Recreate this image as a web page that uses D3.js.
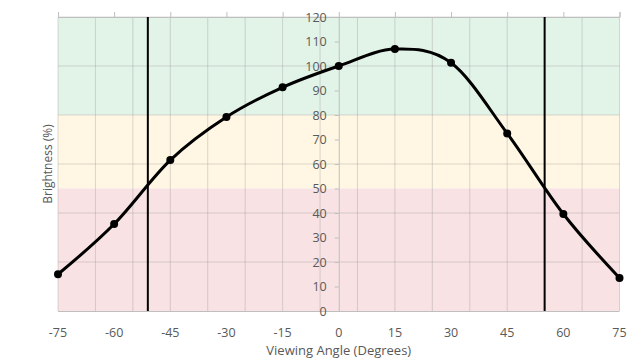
<!DOCTYPE html>
<html><head><meta charset="utf-8">
<script src="https://cdn.jsdelivr.net/npm/d3@7"></script>
<style>body{margin:0;background:#fff}svg{display:block}text{font-family:"Open Sans",Lato,sans-serif;fill:#595959}</style>
</head><body><svg id="c" width="644" height="360"></svg>
<script>
const angles = [-75,-60,-45,-30,-15,0,15,30,45,60,75];
const brightness = [15.0,35.5,61.6,79.2,91.3,100,106.9,101.3,72.5,39.6,13.5];
const xTicks = [-75,-60,-45,-30,-15,0,15,30,45,60,75];
const yTicks = [0,10,20,30,40,50,60,70,80,90,100,110,120];
const xGrid = [-75,-65,-55,-45,-35,-25,-15,-5,5,15,25,35,45,55,65,75];
const yGrid = [20,40,60,80,100,120];
const bands = [{from:80,to:120,color:"#e2f3e8"},{from:50,to:80,color:"#fff7e3"},{from:0,to:50,color:"#f8e2e3"}];
const markers = [-51,55];

const svg = d3.select("#c");
const x = d3.scaleLinear().domain([-75,75]).range([58,619.5]);
const y = d3.scaleLinear().domain([0,120]).range([311,17]);

svg.selectAll("rect.band").data(bands).join("rect")
  .attr("x",x(-75)).attr("width",x(75)-x(-75))
  .attr("y",d=>y(d.to)).attr("height",d=>y(d.from)-y(d.to)).attr("fill",d=>d.color);

svg.selectAll("line.vg").data(xGrid).join("line")
  .attr("x1",d=>x(d)).attr("x2",d=>x(d)).attr("y1",y(0)).attr("y2",y(120))
  .attr("stroke","rgba(150,150,150,0.35)").attr("stroke-width",1);
svg.selectAll("line.hg").data(yGrid).join("line")
  .attr("x1",x(-75)).attr("x2",x(75)).attr("y1",d=>y(d)).attr("y2",d=>y(d))
  .attr("stroke","rgba(150,150,150,0.35)").attr("stroke-width",1);

// bottom border line
svg.append("line").attr("x1",x(-75)).attr("x2",x(75)).attr("y1",y(0)+0.5).attr("y2",y(0)+0.5)
  .attr("stroke","#bfbfbf");

// top x axis with ticks, no labels
const topAxis = svg.append("g").attr("transform",`translate(0,${y(120)})`)
  .call(d3.axisTop(x).tickValues(xTicks).tickSize(5).tickFormat(""));
topAxis.select(".domain").attr("stroke","#bfbfbf");
topAxis.selectAll("line").attr("stroke","#bfbfbf");

// y axis at x=0
const yAxis = svg.append("g").attr("transform",`translate(${x(0)},0)`)
  .call(d3.axisLeft(y).tickValues(yTicks).tickSize(4).tickSizeOuter(0).tickPadding(8));
yAxis.select(".domain").attr("stroke","#bfbfbf");
yAxis.selectAll("line").attr("stroke","#bfbfbf");
yAxis.selectAll("text").style("font-size","12.5px").attr("fill","#595959");

// bottom tick labels
svg.selectAll("text.xl").data(xTicks).join("text")
  .attr("x",d=>x(d)).attr("y",337).attr("text-anchor","middle")
  .style("font-size","12.5px").text(d=>d);

svg.append("text").attr("x",x(0)).attr("y",355).attr("text-anchor","middle")
  .style("font-size","13px").text("Viewing Angle (Degrees)");
svg.append("text").attr("transform",`translate(52,${(y(0)+y(120))/2}) rotate(-90)`)
  .attr("text-anchor","middle").style("font-size","12px").text("Brightness (%)");

// marker lines
svg.selectAll("line.mk").data(markers).join("line")
  .attr("x1",d=>x(d)).attr("x2",d=>x(d)).attr("y1",y(0)).attr("y2",y(120))
  .attr("stroke","#000").attr("stroke-width",2);

const pts = angles.map((a,i)=>[a,brightness[i]]);
svg.append("path").datum(pts)
  .attr("d",d3.line().x(d=>x(d[0])).y(d=>y(d[1])).curve(d3.curveCardinal.tension(0)))
  .attr("fill","none").attr("stroke","#000").attr("stroke-width",3);
svg.selectAll("circle").data(pts).join("circle")
  .attr("cx",d=>x(d[0])).attr("cy",d=>y(d[1])).attr("r",4).attr("fill","#000");
</script></body></html>
